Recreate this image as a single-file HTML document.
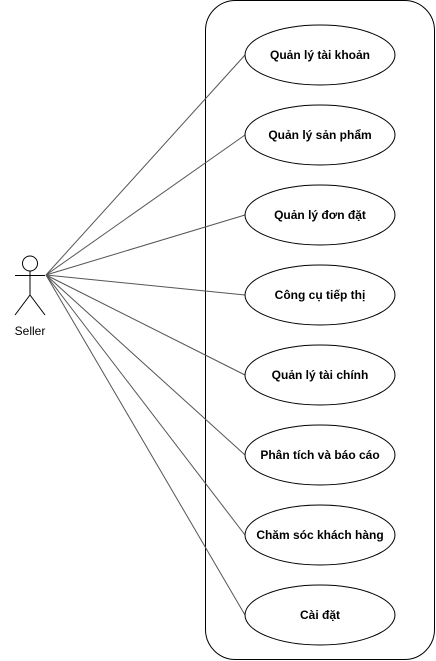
<!DOCTYPE html>
<html><head><meta charset="utf-8"><style>
html,body{margin:0;padding:0;background:#fff;}
svg{display:block}
text{font-family:"Liberation Sans",Arial,sans-serif;font-size:12px;fill:#000}
</style></head><body>
<svg width="436" height="661" viewBox="0 0 436 661" xmlns="http://www.w3.org/2000/svg">
<rect x="205.5" y="0.5" width="229" height="659" rx="30" ry="30" fill="#fff" stroke="#000" stroke-width="1"/>
<g stroke="#555" stroke-width="1" fill="none">
<line x1="46" y1="275" x2="245" y2="55"/>
<line x1="46" y1="275" x2="245" y2="135"/>
<line x1="46" y1="275" x2="245" y2="215"/>
<line x1="46" y1="275" x2="245" y2="295"/>
<line x1="46" y1="275" x2="245" y2="375"/>
<line x1="46" y1="275" x2="245" y2="455"/>
<line x1="46" y1="275" x2="245" y2="535"/>
<line x1="46" y1="275" x2="245" y2="615"/>
</g>
<g fill="#fff" stroke="#000" stroke-width="1">
<ellipse cx="320" cy="55" rx="75" ry="30"/>
<ellipse cx="320" cy="135" rx="75" ry="30"/>
<ellipse cx="320" cy="215" rx="75" ry="30"/>
<ellipse cx="320" cy="295" rx="75" ry="30"/>
<ellipse cx="320" cy="375" rx="75" ry="30"/>
<ellipse cx="320" cy="455" rx="75" ry="30"/>
<ellipse cx="320" cy="535" rx="75" ry="30"/>
<ellipse cx="320" cy="615" rx="75" ry="30"/>
</g>
<g text-anchor="middle" font-weight="bold">
<text x="320" y="59" font-weight="bold">Quản lý tài khoản</text>
<text x="320" y="139" font-weight="bold">Quản lý sản phẩm</text>
<text x="320" y="219" font-weight="bold">Quản lý đơn đặt</text>
<text x="320" y="299" font-weight="bold">Công cụ tiếp thị</text>
<text x="320" y="379" font-weight="bold">Quản lý tài chính</text>
<text x="320" y="459" font-weight="bold">Phân tích và báo cáo</text>
<text x="320" y="539" font-weight="bold">Chăm sóc khách hàng</text>
<text x="320" y="619" font-weight="bold">Cài đặt</text>
</g>
<g stroke="#000" stroke-width="1" fill="#fff">
<circle cx="30" cy="263.5" r="7.5"/>
<line x1="30" y1="271" x2="30" y2="295"/>
<line x1="15" y1="275.5" x2="45" y2="275.5"/>
<line x1="30" y1="295" x2="15" y2="315"/>
<line x1="30" y1="295" x2="45" y2="315"/>
</g>
<text x="30" y="335" text-anchor="middle" font-size="11">Seller</text>
</svg>
</body></html>
